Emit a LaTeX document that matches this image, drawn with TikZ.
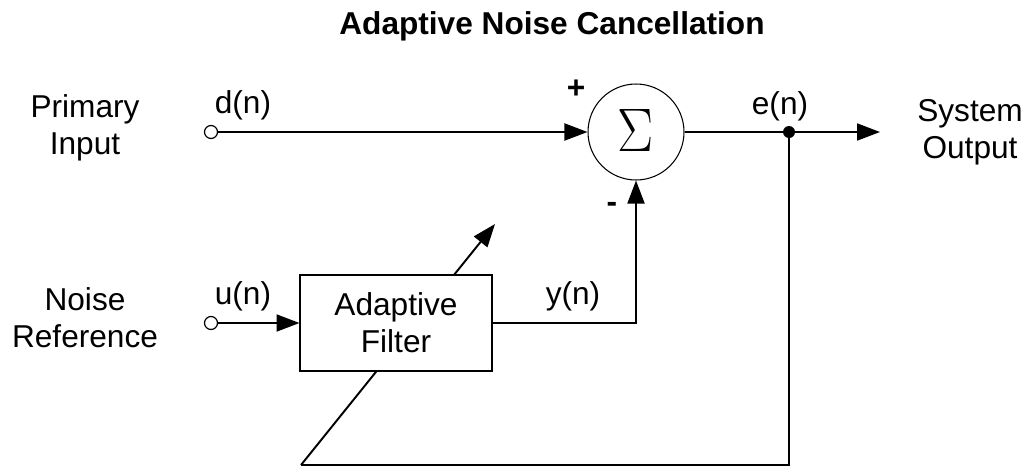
\RequirePackage{fix-cm}
\documentclass[tikz,border=0pt]{standalone}
\usepackage{graphicx}
\usepackage{fontspec}
\setmainfont{Liberation Sans}
\usetikzlibrary{arrows.meta, positioning}

\begin{document}
\begin{tikzpicture}[
        x=0.02cm, y=-0.02cm,
        sig/.style={-{Triangle[length=0.46cm, width=0.34cm]}, line width=1.1pt},
        wire/.style={line width=1.1pt},
        filterbox/.style={rectangle, draw, line width=0.6pt, fill=white,
                    minimum width=3.84cm, minimum height=1.92cm, align=center,
                    font=\fontsize{18}{21}\selectfont},
        sumnode/.style={circle, draw, line width=0.6pt, minimum size=1.92cm, inner sep=0pt},
        port/.style={circle, draw, line width=0.7pt, fill=white, minimum size=0.26cm, inner sep=0pt},
        tap/.style={circle, fill, minimum size=0.24cm, inner sep=0pt},
        lbl/.style={font=\fontsize{18}{21}\selectfont, align=center},
      ]
      \useasboundingbox (0,0) rectangle (1030,467);
      \node[lbl, font=\fontsize{18}{21}\selectfont\bfseries] (title) at (552,26) {Adaptive Noise Cancellation};
      % inputs
      \node[lbl] (primary) at (85,128) {Primary\\Input};
      \node[lbl] (noiseref) at (85,318) {Noise\\Reference};
      \node[port] (din) at (211,132) {};
      \node[port] (uin) at (211,323) {};
      % summing junction and tap
      \node[sumnode] (sum) at (636,132)
        {\raisebox{2pt}{\scalebox{0.88}[1]{\fontsize{35}{35}\selectfont$\Sigma$}}};
      \node[tap] (tap) at (789,132) {};
      \coordinate (out) at (880,132);
      \node[lbl] (sysout) at (970,132) {System\\Output};
      % adaptation path (drawn under the filter)
      \coordinate (fb) at (301,465);
      \coordinate (adj) at (495,224);
      \draw[wire] (tap) -- (tap |- fb) -- (fb);
      \draw[sig] (fb) -- (adj);
      \node[filterbox] (filt) at (396,323) {Adaptive\\Filter};
      % signal paths
      \draw[sig] (din) -- (sum.west);
      \draw[sig] (uin) -- (filt.west);
      \draw[sig] (filt.east) -| (sum.south);
      \draw[wire] (sum.east) -- (tap);
      \draw[sig] (tap) -- (out);
      % labels
      \node[lbl] (dlbl) at (243,105) {d(n)};
      \node[lbl] (ulbl) at (243,296) {u(n)};
      \node[lbl] (ylbl) at (573,296) {y(n)};
      \node[lbl] (elbl) at (780,106) {e(n)};
      \node[lbl, font=\fontsize{18}{21}\selectfont\bfseries] (plus) at (576,89) {+};
      \node[lbl, font=\fontsize{18}{21}\selectfont\bfseries] (minus) at (612,207) {-};
    \end{tikzpicture}
\end{document}
